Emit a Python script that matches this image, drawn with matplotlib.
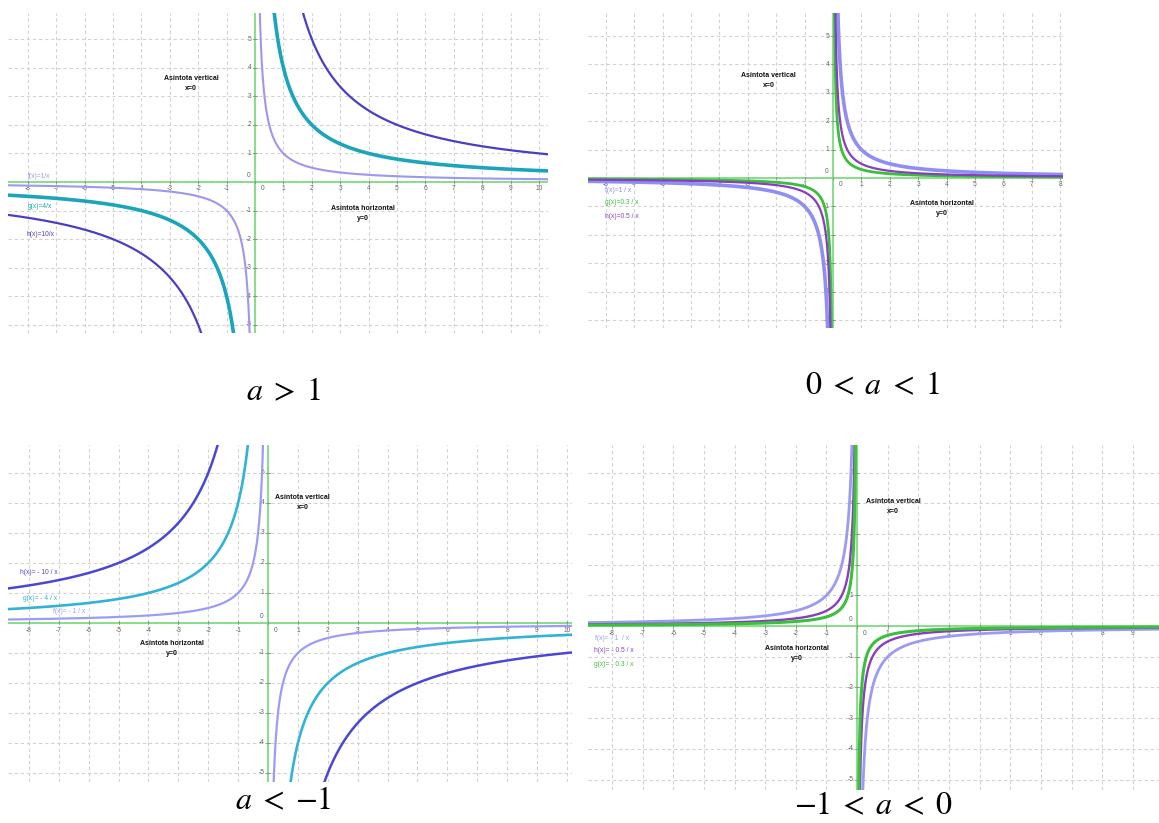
import numpy as np
import matplotlib
matplotlib.use("Agg")
import matplotlib.pyplot as plt

plt.rcParams["mathtext.fontset"] = "stix"
plt.rcParams["font.family"] = ["Liberation Sans", "DejaVu Sans"]

W, H = 1159, 823

# ---- panel definitions: coefficients of y = a/x, names, colours ----
p1_coefs = [1, 4, 10]
p1_names = ["f(x)=1/x", "g(x)=4/x", "h(x)=10/x"]
p1_colors = ["#9d97ee", "#1ba5bd", "#4a3fc4"]
p1_widths = [1.5, 2.6, 1.6]
p1_label_xy = [(-8.0, 0.18), (-8.0, -0.87), (-8.06, -1.85)]

p2_coefs = [1, 0.3, 0.5]
p2_names = ["f(x)=1 / x", "g(x)=0.3 / x", "h(x)=0.5 / x"]
p2_colors = ["#8f8ef2", "#39bf3c", "#8a3dbf"]
p2_widths = [2.6, 2.0, 1.6]
p2_label_xy = [(-8.03, -0.45), (-8.03, -0.87), (-8.03, -1.37)]

p3_coefs = [-10, -4, -1]
p3_names = ["h(x)= - 10 / x", "g(x)= - 4 / x", "f(x)= - 1 / x"]
p3_colors = ["#4b47d6", "#32b2d6", "#9c9cf8"]
p3_widths = [1.8, 1.9, 1.6]
p3_label_xy = [(-8.29, 1.67), (-8.19, 0.8), (-7.19, 0.37)]

p4_coefs = [-1, -0.5, -0.3]
p4_names = ["f(x)= - 1  / x", "h(x)= - 0.5 / x", "g(x)= - 0.3 / x"]
p4_colors = ["#9c9af4", "#8a3dbf", "#3cbf3c"]
p4_widths = [2.0, 1.7, 2.2]
p4_label_xy = [(-8.55, -0.40), (-8.6, -0.80), (-8.6, -1.24)]

captions = [r"$a\;>\;1$", r"$0\;<\;a\;<\;1$", r"$a\;<\;{-1}$",
            r"${-1}\;<\;a\;<\;0$"]

# axes boxes in pixels: left, top, right, bottom ; data limits
boxes = [(8, 13, 548, 333), (588, 13, 1063, 328),
         (8, 445, 572, 782), (588, 445, 1159, 790)]
limits = [((-8.70, 10.32), (-5.28, 5.91)),
          ((-8.63, 8.10), (-5.28, 5.81)),
          ((-8.70, 10.17), (-5.30, 5.93)),
          ((-8.78, 9.85), (-5.34, 5.90))]
vert_text = [(-2.25, 3.45), (-2.26, 3.45), (1.15, 4.0), (1.18, 3.9)]
horiz_text = [(3.8, -1.1), (3.85, -1.08), (-3.23, -0.85), (-1.97, -0.9)]
caption_xy = [(283, 392), (872, 386), (283, 801), (874, 806)]

panels = [
    (p1_coefs, p1_names, p1_colors, p1_widths, p1_label_xy),
    (p2_coefs, p2_names, p2_colors, p2_widths, p2_label_xy),
    (p3_coefs, p3_names, p3_colors, p3_widths, p3_label_xy),
    (p4_coefs, p4_names, p4_colors, p4_widths, p4_label_xy),
]

AXIS_GREEN = "#80dc80"
GRID = "#d2d2d2"
TICK_TXT = "#666666"

fig = plt.figure(figsize=(W / 100, H / 100), dpi=100)
fig.patch.set_facecolor("white")

for i, (coefs, names, colors, widths, label_xy) in enumerate(panels):
    l, t, r, b = boxes[i]
    ax = fig.add_axes([l / W, 1 - b / H, (r - l) / W, (b - t) / H])
    (x0, x1), (y0, y1) = limits[i]
    ax.set_xlim(x0, x1)
    ax.set_ylim(y0, y1)
    for s in ax.spines.values():
        s.set_visible(False)

    xt = np.arange(np.ceil(x0), np.floor(x1) + 1)
    yt = np.arange(np.ceil(y0), np.floor(y1) + 1)
    ax.set_xticks(xt)
    ax.set_yticks(yt)
    ax.tick_params(length=0, labelbottom=False, labelleft=False)
    ax.grid(True, color=GRID, linestyle=(0, (3, 2.5)), linewidth=0.8)
    ax.set_axisbelow(True)

    # coordinate axes
    ax.axhline(0, color=AXIS_GREEN, lw=1.3, zorder=2)
    ax.axvline(0, color=AXIS_GREEN, lw=1.3, zorder=2)

    # small tick marks and numbers along the axes
    for v in xt:
        ax.plot([v, v], [-0.05, 0.05], color="#888888", lw=0.6, zorder=2)
        lbl = "0" if v == 0 else f"{int(v)}"
        ax.text(v + (0.25 if v == 0 else 0), -0.12, lbl, fontsize=4.8,
                color=TICK_TXT, ha="center", va="top", zorder=3)
    for v in yt:
        if v == 0:
            ax.text(-0.15, 0.1, "0", fontsize=4.8, color=TICK_TXT,
                    ha="right", va="bottom", zorder=3)
            continue
        ax.plot([-0.07, 0.07], [v, v], color="#888888", lw=0.6, zorder=2)
        ax.text(-0.12, v, f"{int(v)}", fontsize=4.8, color=TICK_TXT,
                ha="right", va="center", zorder=3)

    # the hyperbolas y = a / x on both branches
    xn = np.linspace(x0, -1e-3, 4000)
    xp = np.linspace(1e-3, x1, 4000)
    for a, c, w in zip(coefs, colors, widths):
        ax.plot(xn, a / xn, color=c, lw=w, zorder=4, solid_capstyle="round")
        ax.plot(xp, a / xp, color=c, lw=w, zorder=4, solid_capstyle="round")

    for name, c, (tx, ty) in zip(names, colors, label_xy):
        ax.text(tx, ty, name, fontsize=4.8, color=c, ha="left",
                va="center", zorder=5)

    vx, vy = vert_text[i]
    ax.text(vx, vy, "Asíntota vertical\nx=0", fontsize=5,
            fontweight="bold", color="#111111", ha="center", va="center",
            linespacing=1.6, zorder=5)
    hx, hy = horiz_text[i]
    ax.text(hx, hy, "Asíntota horizontal\ny=0", fontsize=5,
            fontweight="bold", color="#111111", ha="center", va="center",
            linespacing=1.6, zorder=5)

for cap, (cx, cy) in zip(captions, caption_xy):
    fig.text(cx / W, 1 - cy / H, cap, fontsize=23, ha="center",
             va="center", color="black")

fig.savefig("out.png", dpi=100, facecolor="white")
